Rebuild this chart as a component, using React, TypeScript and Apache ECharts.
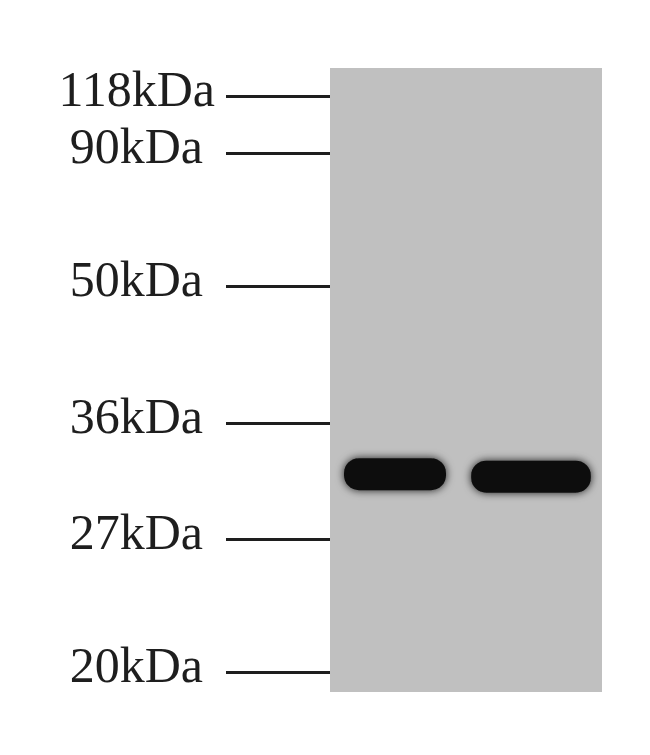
import React, { useEffect, useRef } from 'react';
import * as echarts from 'echarts';

// ladder markers (kDa) and their relative mobility in the gel (0 = top, 1 = bottom)
const markerLabels = ['118kDa', '90kDa', '50kDa', '36kDa', '27kDa', '20kDa'];
const markerRf = [0.045, 0.136, 0.349, 0.569, 0.755, 0.968];

// sample lanes and detected bands
const lanes = ['Lane 1', 'Lane 2'];
const bandRf = [0.651, 0.655];
const bandSpan = [0.75, 0.88];

export default function App() {
  const chartRef = useRef<HTMLDivElement>(null);

  useEffect(() => {
    document.body.style.margin = '0';
    if (!chartRef.current) return;
    const chart = echarts.init(chartRef.current, null, { renderer: 'svg' });

    const labelOf = (v: number) => {
      const i = markerRf.findIndex((r) => Math.abs(r - v) < 1e-6);
      if (i < 0) return '';
      return i === 0 ? `{w|${markerLabels[i]}}` : `{n|${markerLabels[i]}}`;
    };

    const font = { fontFamily: 'Liberation Serif', fontSize: 50, color: '#1e1e1e' };

    chart.setOption({
      animation: false,
      backgroundColor: '#ffffff',
      grid: {
        left: 330,
        right: 48,
        top: 68,
        bottom: 63,
        show: true,
        backgroundColor: '#c0c0c0',
        borderWidth: 0,
      },
      xAxis: {
        type: 'category',
        data: lanes,
        show: false,
      },
      yAxis: {
        type: 'value',
        inverse: true,
        min: 0,
        max: 1,
        splitLine: { show: false },
        axisLine: { show: false },
        axisTick: {
          show: true,
          customValues: markerRf,
          length: 104,
          lineStyle: { color: '#1e1e1e', width: 3 },
        },
        axisLabel: {
          show: true,
          customValues: markerRf,
          margin: 115,
          padding: [0, 0, 14, 0],
          ...font,
          formatter: labelOf,
          rich: {
            n: { ...font, padding: [0, 12, 0, 0] },
            w: { ...font },
          },
        },
      },
      series: [
        {
          type: 'custom',
          data: lanes.map((_, i) => [i, bandRf[i], bandSpan[i]]),
          renderItem: (params: any, api: any) => {
            const c = api.coord([api.value(0), api.value(1)]);
            const w = api.size([1, 0])[0] * api.value(2);
            const h = 32;
            return {
              type: 'rect',
              shape: { x: c[0] - w / 2 - 3, y: c[1] - h / 2, width: w, height: h, r: 15 },
              style: {
                fill: '#0c0c0c',
                shadowBlur: 8,
                shadowColor: 'rgba(0,0,0,0.85)',
              },
            };
          },
        },
      ],
    });

    return () => chart.dispose();
  }, []);

  return <div ref={chartRef} style={{ width: 650, height: 755 }} />;
}
